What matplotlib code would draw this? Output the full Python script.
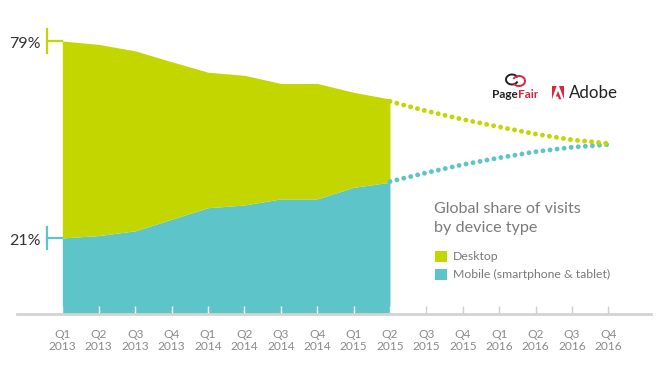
import matplotlib.pyplot as plt
import matplotlib.patches as mpatches
import numpy as np

plt.rcParams['font.family'] = ['Lato', 'DejaVu Sans']

quarters = ['Q1\n2013', 'Q2\n2013', 'Q3\n2013', 'Q4\n2013',
            'Q1\n2014', 'Q2\n2014', 'Q3\n2014', 'Q4\n2014',
            'Q1\n2015', 'Q2\n2015', 'Q3\n2015', 'Q4\n2015',
            'Q1\n2016', 'Q2\n2016', 'Q3\n2016', 'Q4\n2016']

# measured share of visits (%), Q1 2013 .. Q2 2015
desktop = [79, 78.0, 76.1, 72.9, 69.8, 68.9, 66.5, 66.5, 63.9, 61.9]
mobile = [21, 21.7, 23.1, 26.5, 29.9, 30.7, 32.5, 32.5, 35.9, 37.4]
# projection, Q2 2015 .. Q4 2016
desktop_proj = [61.2, 58.4, 55.9, 53.7, 51.6, 49.9, 48.8]
mobile_proj = [37.6, 40.2, 42.6, 44.6, 46.4, 47.7, 48.5]

GREEN = '#c3d600'
TEAL = '#5dc5c9'
YMIN = -1.4

fig = plt.figure(figsize=(6.63, 3.72), dpi=100)
ax = fig.add_axes([17 / 663, 58 / 372, 634 / 663, 314 / 372])

x_act = np.arange(len(desktop))
x_proj = np.arange(len(desktop) - 1, len(desktop) - 1 + len(desktop_proj))

ax.fill_between(x_act, YMIN, mobile, color=TEAL, lw=0, zorder=1)
ax.fill_between(x_act, mobile, desktop, color=GREEN, lw=0, zorder=1)

dots = dict(lw=3.5, linestyle=(0, (0.01, 1.45)), dash_capstyle='round', zorder=3)
ax.plot(x_proj, mobile_proj, color=TEAL, **dots)
ax.plot(x_proj, desktop_proj, color=GREEN, **dots)

ax.set_xlim(-1.245, 16.17)
ax.set_ylim(YMIN, 91.07)
ax.set_xticks(range(len(quarters)))
ax.set_xticklabels(quarters, fontsize=8.6, color='#8a8a8a', linespacing=1.1)
ax.set_yticks([])
ax.tick_params(axis='x', direction='in', length=5.5, width=1, pad=11)
for i, t in enumerate(ax.xaxis.get_major_ticks()):
    c = 'white' if i < len(desktop) else '#cfcfcf'
    t.tick1line.set_color(c)
    t.tick1line.set_markeredgecolor(c)
for s in ['top', 'right', 'left']:
    ax.spines[s].set_visible(False)
ax.spines['bottom'].set_color('#d3d3d3')
ax.spines['bottom'].set_linewidth(2)
ax.patch.set_alpha(0)

# start value brackets
xb = -0.43
ax.plot([xb, xb], [desktop[0] - 3.5, desktop[0] + 3.5], color=GREEN, lw=1.6, clip_on=False)
ax.plot([xb, 0], [desktop[0], desktop[0]], color=GREEN, lw=1.6, clip_on=False)
ax.plot([xb, xb], [mobile[0] - 3.3, mobile[0] + 3.3], color=TEAL, lw=1.6, clip_on=False)
ax.plot([xb, 0], [mobile[0], mobile[0]], color=TEAL, lw=1.6, clip_on=False)
ax.text(-0.6, desktop[0] - 0.9, f'{desktop[0]}%', ha='right', va='center',
        fontsize=11.5, color='#333333', clip_on=False)
ax.text(-0.6, mobile[0] - 0.9, f'{mobile[0]}%', ha='right', va='center',
        fontsize=11.5, color='#333333', clip_on=False)

# overlay in pixel coordinates for legend and logos
deco = fig.add_axes([0, 0, 1, 1])
deco.set_xlim(0, 663)
deco.set_ylim(372, 0)
deco.axis('off')
deco.patch.set_alpha(0)

deco.text(434, 209, 'Global share of visits', fontsize=11.6, color='#7a7a7a', va='center')
deco.text(434, 228, 'by device type', fontsize=11.6, color='#7a7a7a', va='center')
deco.add_patch(mpatches.Rectangle((435, 250.5), 11.5, 11.5, color=GREEN, lw=0))
deco.add_patch(mpatches.Rectangle((435, 268.5), 11.5, 11.5, color=TEAL, lw=0))
deco.text(453, 256, 'Desktop', fontsize=8.8, color='#7a7a7a', va='center')
deco.text(453, 274, 'Mobile (smartphone & tablet)', fontsize=8.8, color='#7a7a7a', va='center')

# PageFair logo
RED = '#d7263d'
deco.text(518, 94, 'Page', fontsize=8.5, fontweight='bold', color='#222222', va='center', ha='right')
deco.text(518, 94, 'Fair', fontsize=8.5, fontweight='bold', color=RED, va='center', ha='left')
deco.add_patch(mpatches.Arc((512, 79.5), 12, 10, theta1=20, theta2=340, color='#222222', lw=1.4))
deco.add_patch(mpatches.Arc((519, 81), 12, 10, theta1=200, theta2=160, color=RED, lw=1.4))

# Adobe logo
ax0, ay0, w, h = 552, 86, 12, 14
def P(pts):
    return [(ax0 + px * w, ay0 + py * h) for px, py in pts]
deco.add_patch(mpatches.Polygon(P([(0, 0), (0.38, 0), (0, 0.95)]), color=RED, lw=0))
deco.add_patch(mpatches.Polygon(P([(0.62, 0), (1, 0), (1, 0.95)]), color=RED, lw=0))
deco.add_patch(mpatches.Polygon(P([(0.5, 0.35), (0.78, 0.95), (0.58, 0.95), (0.5, 0.75),
                                   (0.32, 0.75)]), color=RED, lw=0))
deco.text(569, 93.5, 'Adobe', fontsize=12.2, color='#222222', va='center')

fig.savefig('out.png', dpi=100)
